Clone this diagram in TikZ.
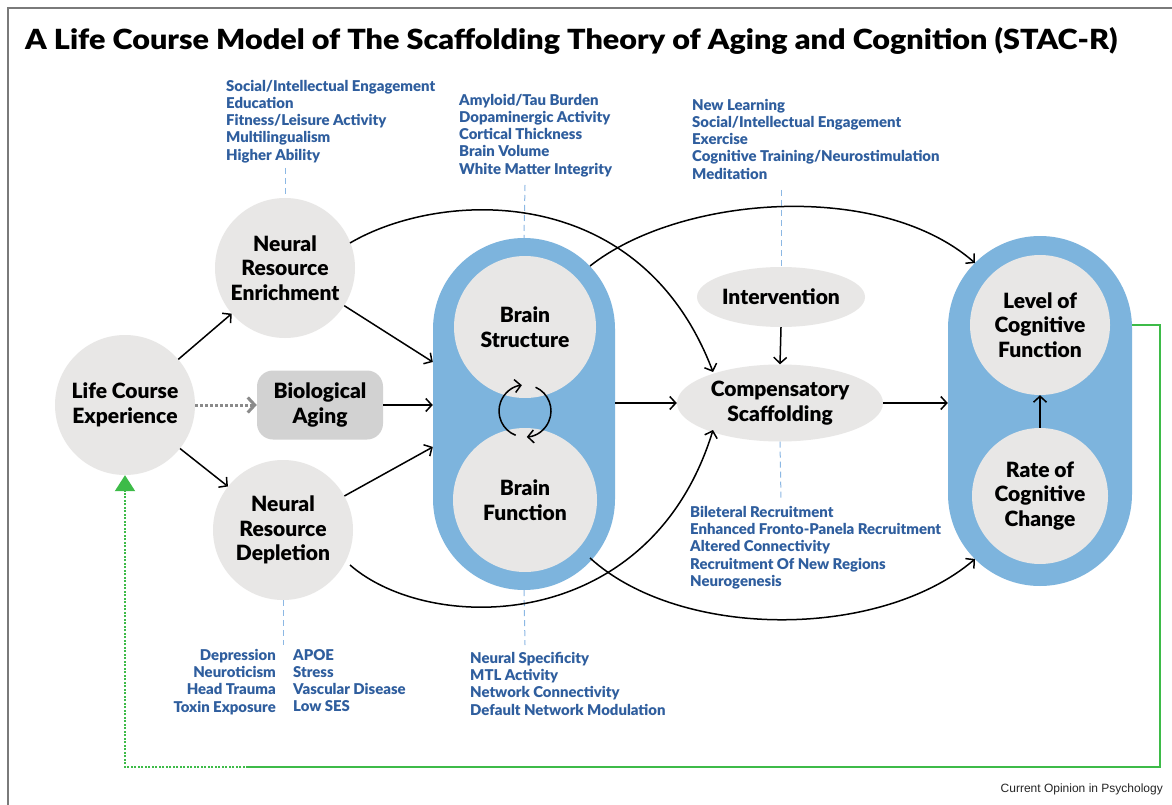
\documentclass[tikz,border=0pt]{standalone}
\usepackage{fontspec}
\setmainfont{Lato}
\newfontfamily\heavyfont{Lato Black}
\newfontfamily\footfont{Liberation Sans}
\usetikzlibrary{arrows.meta,shapes.geometric,calc}
\definecolor{nodegray}{HTML}{E8E7E6}
\definecolor{biogray}{HTML}{D2D2D2}
\definecolor{pillblue}{HTML}{7DB4DD}
\definecolor{listblue}{HTML}{2F5E9E}
\definecolor{guideblue}{HTML}{8CB8E4}
\definecolor{fbgreen}{HTML}{3DBB48}
\definecolor{framegray}{HTML}{7A7A7A}
\definecolor{dotgray}{HTML}{8A8A8A}
\begin{document}
\begin{tikzpicture}[x=1pt,y=-1pt,
  bigfont/.style={font=\heavyfont\fontsize{21}{24.5}\selectfont},
  circ/.style={circle, fill=nodegray, inner sep=0pt, align=center, bigfont},
  oval/.style={ellipse, fill=nodegray, inner sep=0pt, align=center, bigfont},
  pillbox/.style={rectangle, fill=pillblue, inner sep=0pt},
  listtext/.style={text=listblue, font=\heavyfont\fontsize{14.9}{17.2}\selectfont, inner sep=0pt},
  guide/.style={guideblue, line width=1pt, dash pattern=on 6pt off 4pt},
  conn/.style={black, line width=1.5pt, -{Straight Barb[length=6pt,width=13pt]}},
]
\useasboundingbox (0,0) rectangle (1172,805);
\fill[white] (0,0) rectangle (1172,805);

% frame and title
\draw[framegray, line width=1.5pt] (8,805) -- (8,8) -- (1172,8);
\node[anchor=base west, inner sep=0pt] (title) at (25,50)
  {\resizebox{1092pt}{22pt}{\heavyfont A Life Course Model of The Scaffolding Theory of Aging and Cognition (STAC-R)}};

% blue containers
\node[pillbox, minimum width=182pt, minimum height=352pt, rounded corners=91pt] (pill) at (524,414) {};
\node[pillbox, minimum width=184pt, minimum height=350pt, rounded corners=92pt] (rpill) at (1040,411) {};

% main nodes
\node[circ, minimum size=140pt] (lce) at (125,405) {Life Course\\Experience};
\node[circ, minimum size=140pt] (nre) at (285,268) {Neural\\Resource\\Enrichment};
\node[circ, minimum size=140pt] (nrd) at (283,530) {Neural\\Resource\\Depletion};
\node[rectangle, rounded corners=16pt, fill=biogray, minimum width=126pt, minimum height=69pt,
  inner sep=0pt, align=center, bigfont] (bio) at (320,405) {Biological\\Aging};
\node[circ, minimum size=142pt] (bs) at (525,327) {Brain\\Structure};
\node[circ, minimum size=144pt] (bf) at (525,500) {Brain\\Function};
\node[oval, minimum width=168pt, minimum height=60pt] (intv) at (781,297) {Intervention};
\node[oval, minimum width=206pt, minimum height=77pt] (comp) at (780,403) {Compensatory\\Scaffolding};
\node[circ, minimum size=140pt] (lcf) at (1040,325) {Level of\\Cognitive\\Function};
\node[circ, minimum size=136pt] (rcc) at (1040,496) {Rate of\\Cognitive\\Change};

% lists of factors
\node[listtext, anchor=north west, align=left] (enrlist) at (226,80)
  {Social/Intellectual Engagement\\Education\\Fitness/Leisure Activity\\Multilingualism\\Higher Ability};
\node[listtext, anchor=north west, align=left] (bslist) at (459,94)
  {Amyloid/Tau Burden\\Dopaminergic Activity\\Cortical Thickness\\Brain Volume\\White Matter Integrity};
\node[listtext, anchor=north west, align=left] (intlist) at (692,99)
  {New Learning\\Social/Intellectual Engagement\\Exercise\\Cognitive Training/Neurostimulation\\Meditation};
\node[listtext, anchor=north west, align=left] (complist) at (690,506)
  {Bileteral Recruitment\\Enhanced Fronto-Panela Recruitment\\Altered Connectivity\\Recruitment Of New Regions\\Neurogenesis};
\node[listtext, anchor=north east, align=right] (deplistl) at (276,649)
  {Depression\\Neuroticism\\Head Trauma\\Toxin Exposure};
\node[listtext, anchor=north west, align=left] (deplistr) at (293,649)
  {APOE\\Stress\\Vascular Disease\\Low SES};
\node[listtext, anchor=north west, align=left] (bflist) at (470,652)
  {Neural Specificity\\MTL Activity\\Network Connectivity\\Default Network Modulation};

% dashed guides from lists to nodes
\draw[guide] (285,168) -- (nre.north);
\draw[guide] (525,185) -- (pill.north);
\draw[guide] (781,190) -- (intv.north);
\draw[guide] (comp.south) -- (781,500);
\draw[guide] (pill.south) -- (525,645);
\draw[guide] (nrd.south) -- (283,645);

% straight connectors
\coordinate (pin1) at ($(pill.west)+(0,-52)$);
\coordinate (pin3) at ($(pill.west)+(0,33)$);
\draw[conn] (lce) -- (nre);
\draw[conn] (lce) -- (nrd);
\draw[conn] (nre) -- (pin1);
\draw[conn] (nrd) -- (pin3);
\draw[conn] (bio.east) -- (bio.east -| pill.west);
\draw[dotgray, line width=3pt, dash pattern=on 3pt off 2pt,
  -{Straight Barb[length=7pt,width=15pt,line width=3pt]}] (lce.east) -- (bio.west);
\draw[conn] (comp.west -| pill.east) -- (comp.west);
\draw[conn] (intv.south) -- (comp.north);
\draw[conn] (comp.east) -- (comp.east -| rpill.west);
\draw[conn] (rcc.north) -- (lcf.south);

% structure/function cycle
\coordinate (cyc) at (525,411);
\draw[conn] ([shift={(111:26)}]cyc) arc[start angle=111, end angle=263, radius=26];
\draw[conn] ([shift={(294:26)}]cyc) arc[start angle=294, end angle=446, radius=26];

% curved connectors
\coordinate (c1s) at (350,243);
\coordinate (c1e) at (713,372);
\coordinate (c2s) at (590,266);
\coordinate (c2e) at (975,263);
\coordinate (c3s) at (350,565);
\coordinate (c3e) at (713,430);
\coordinate (c4s) at (590,558);
\coordinate (c4e) at (975,559);
\draw[conn] (c1s) .. controls (440,190) and (640,180) .. (c1e);
\draw[conn] (c2s) .. controls (680,195) and (880,180) .. (c2e);
\draw[conn] (c3s) .. controls (430,635) and (650,635) .. (c3e);
\draw[conn] (c4s) .. controls (680,640) and (880,640) .. (c4e);

% feedback loop
\coordinate (fb1) at (1160,767);
\coordinate (fb2) at (248,767);
\draw[fbgreen, line width=1.5pt] (lcf.east -| rpill.east) -- (lcf.east -| fb1) -- (fb1) -- (fb2);
\draw[fbgreen, line width=2pt, dash pattern=on 2pt off 1.5pt,
  -{Triangle[width=20pt,length=16pt]}] (fb2) -- (fb2 -| lce) -- (lce.south);

% source line
\node[anchor=base east, inner sep=0pt, font=\footfont\fontsize{12}{14}\selectfont, text=black!85] (src) at (1163,792)
  {Current Opinion in Psychology};
\end{tikzpicture}
\end{document}
